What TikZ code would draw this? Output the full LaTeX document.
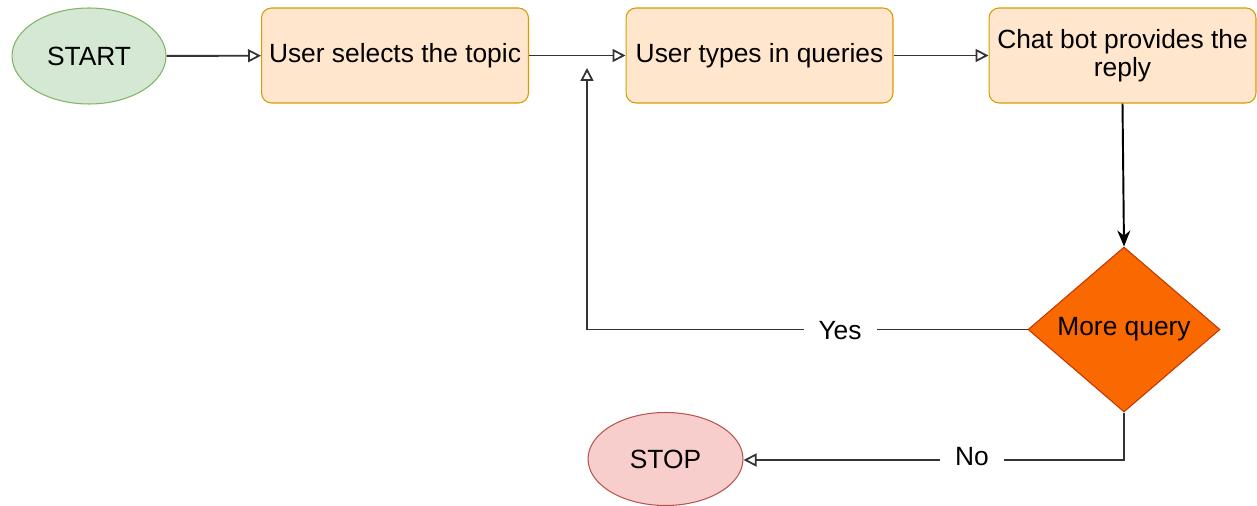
\documentclass[tikz,border=0pt]{standalone}
\usepackage{fontspec}
\setmainfont{Liberation Sans}
\usetikzlibrary{arrows.meta,shapes.geometric}
\definecolor{startfill}{HTML}{D5E8D4}
\definecolor{startdraw}{HTML}{82B366}
\definecolor{boxfill}{HTML}{FFE6CC}
\definecolor{boxdraw}{HTML}{D79B00}
\definecolor{decfill}{HTML}{FA6800}
\definecolor{decdraw}{HTML}{C73500}
\definecolor{stopfill}{HTML}{F8CECC}
\definecolor{stopdraw}{HTML}{B85450}
\definecolor{linecol}{HTML}{333333}
\tikzset{
  txt/.style={font=\fontsize{15}{16}\selectfont, align=center},
  startnode/.style={txt, ellipse, draw=startdraw, fill=startfill, line width=0.6pt, inner sep=0pt, minimum width=3.08cm, minimum height=1.92cm},
  stopnode/.style={txt, ellipse, draw=stopdraw, fill=stopfill, line width=0.6pt, inner sep=0pt, minimum width=3.1cm, minimum height=1.86cm},
  procbox/.style={txt, rectangle, rounded corners=0.2cm, draw=boxdraw, fill=boxfill, line width=0.6pt, inner sep=0pt, minimum width=5.34cm, minimum height=1.9cm},
  decnode/.style={diamond, draw=decdraw, fill=decfill, line width=0.6pt, inner sep=0pt, minimum width=3.84cm, minimum height=3.3cm},
  flow/.style={draw=linecol, line width=1.1pt, -{Triangle[open, length=0.26cm, width=0.26cm, line width=1pt]}},
  flowfill/.style={draw=black, line width=1.1pt, -{Stealth[length=0.32cm, width=0.26cm]}},
  edgelabel/.style={txt, fill=white, inner xsep=0.3cm, inner ysep=2pt}
}
\begin{document}
\begin{tikzpicture}[x=0.02cm, y=-0.02cm]
\useasboundingbox (0,0) rectangle (1257,506);
\node[startnode] (start) at (89,56) {START};
\node[procbox] (b1) at (395,55.5) {User selects the topic};
\node[procbox] (b2) at (759.5,55.5) {User types in queries};
\node[procbox] (b3) at (1122.5,55.5) {Chat bot provides the\\reply};
\node[decnode, label={[txt]center:More query}] (dec) at (1124,329.5) {};
\node[stopnode] (stop) at (665.5,459) {STOP};
\coordinate (yescorner) at (587,329.5);
\coordinate (yesend) at (587,68);
\coordinate (nocorner) at (1124,460);
\draw[flow] (start) -- (b1);
\draw[flow] (b1) -- (b2);
\draw[flow] (b2) -- (b3);
\draw[flowfill] (b3.south) -- (dec.north);
\draw[flow] (dec.west) -- (yescorner) -- (yesend);
\draw[flow] (dec.south) -- (nocorner) -- (stop.east |- nocorner);
\node[edgelabel] (yes) at (840,331) {Yes};
\node[edgelabel] (no) at (972,457) {No};
\end{tikzpicture}
\end{document}
